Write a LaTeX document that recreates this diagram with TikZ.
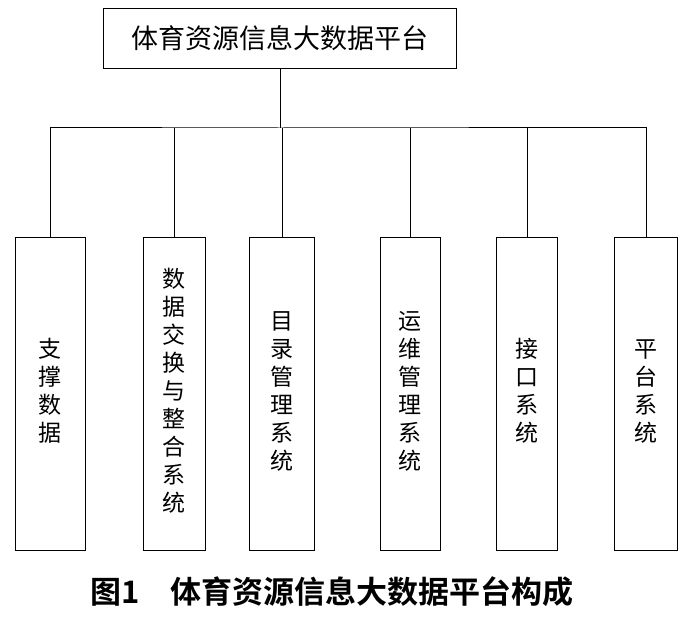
\documentclass[tikz,border=0pt]{standalone}
\usepackage{fontspec}
\setmainfont{Noto Sans CJK SC}
\newfontfamily\capfont{Noto Sans CJK SC Bold}
\tikzset{
  topbox/.style={draw,thick,minimum width=353pt,minimum height=60pt,inner sep=0pt,font=\fontsize{27}{30}\selectfont},
  subbox/.style={draw,thick,minimum height=313pt,inner sep=0pt,anchor=north,align=center,font=\fontsize{23}{28}\selectfont},
}
\newcommand{\vtext}[1]{\begin{tabular}{@{}c@{}}#1\end{tabular}}
\begin{document}
\begin{tikzpicture}[x=1pt,y=-1pt,line width=1pt]
\useasboundingbox (0,0) rectangle (694,620);
% platform
\node[topbox] (top) at (280,38) {体育资源信息大数据平台};
\coordinate (hub) at (280,128);
% subsystems
\node[subbox,minimum width=70pt] (s1) at (50,237) {\vtext{支\\撑\\数\\据}};
\node[subbox,minimum width=62pt] (s2) at (174,237) {\vtext{数\\据\\交\\换\\与\\整\\合\\系\\统}};
\node[subbox,minimum width=65pt] (s3) at (282,237) {\raisebox{25pt}{\vtext{目\\录\\管\\理\\系\\统}}};
\node[subbox,minimum width=60pt] (s4) at (410,237) {\raisebox{25pt}{\vtext{运\\维\\管\\理\\系\\统}}};
\node[subbox,minimum width=61pt] (s5) at (527,237) {\raisebox{10pt}{\vtext{接\\口\\系\\统}}};
\node[subbox,minimum width=63pt] (s6) at (646,237) {\raisebox{10pt}{\vtext{平\\台\\系\\统}}};
% connectors
\draw (top.south) -- (hub);
\draw (s1.north) |- (hub) -| (s6.north);
\foreach \s in {s2,s3,s4,s5}
  \draw (\s.north) -- (\s.north |- hub);
% caption
\node[font=\capfont\fontsize{31}{34}\selectfont] (cap) at (332,592) {图1\quad 体育资源信息大数据平台构成};
\end{tikzpicture}
\end{document}
